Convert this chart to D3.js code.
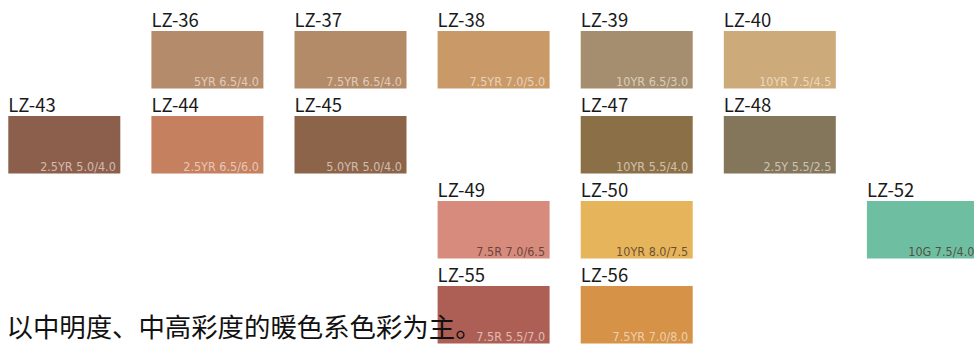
<!DOCTYPE html>
<html>
<head>
<meta charset="utf-8">
<script src="https://cdn.jsdelivr.net/npm/d3@7"></script>
<style>
  body { margin: 0; background: #fff; }
  svg { display: block; }
</style>
</head>
<body>
<div id="chart-area"></div>
<script>
// Swatch data
const codes = ["LZ-36", "LZ-37", "LZ-38", "LZ-39", "LZ-40",
  "LZ-43", "LZ-44", "LZ-45", "LZ-47", "LZ-48",
  "LZ-49", "LZ-50", "LZ-52", "LZ-55", "LZ-56"];
const munsell = ["5YR 6.5/4.0", "7.5YR 6.5/4.0", "7.5YR 7.0/5.0", "10YR 6.5/3.0", "10YR 7.5/4.5",
  "2.5YR 5.0/4.0", "2.5YR 6.5/6.0", "5.0YR 5.0/4.0", "10YR 5.5/4.0", "2.5Y 5.5/2.5",
  "7.5R 7.0/6.5", "10YR 8.0/7.5", "10G 7.5/4.0", "7.5R 5.5/7.0", "7.5YR 7.0/8.0"];
const swatchColors = ["#b48c6c", "#b38b69", "#c99a68", "#a48e6f", "#cdaa79",
  "#8c5f4c", "#c5805f", "#8c6449", "#8b7047", "#83765b",
  "#d68b7d", "#e6b45b", "#6ebea1", "#ae5f55", "#d69247"];
const cols = [1, 2, 3, 4, 5, 0, 1, 2, 4, 5, 3, 4, 6, 3, 4];
const rows = [0, 0, 0, 0, 0, 1, 1, 1, 1, 1, 2, 2, 2, 3, 3];
const darkText = ["LZ-49", "LZ-50", "LZ-52"];
const caption = "以中明度、中高彩度的暖色系色彩为主。";

const width = 974, height = 345;
const swW = 112, swH = 57.5;

const svg = d3.select("#chart-area").append("svg")
  .attr("width", width)
  .attr("height", height);

const x = d3.scaleLinear().domain([0, 6]).range([8.3, 866.9]);
const y = d3.scaleLinear().domain([0, 3]).range([31, 286]);

const data = codes.map((c, i) => ({
  code: c, munsell: munsell[i], color: swatchColors[i], col: cols[i], row: rows[i]
}));

const g = svg.selectAll(".swatch")
  .data(data)
  .enter().append("g")
  .attr("class", "swatch")
  .attr("transform", d => "translate(" + x(d.col) + "," + y(d.row) + ")");

g.append("rect")
  .attr("width", swW)
  .attr("height", swH)
  .attr("fill", d => d.color);

g.append("text")
  .attr("x", 0)
  .attr("y", -3.6)
  .attr("font-family", "'Noto Sans CJK SC', 'Noto Sans', sans-serif")
  .attr("font-size", 18.5)
  .attr("fill", "#1a1a1a")
  .text(d => d.code);

g.append("text")
  .attr("x", swW - 4.5)
  .attr("y", swH - 3)
  .attr("text-anchor", "end")
  .attr("font-family", "'Liberation Sans Narrow', 'DejaVu Sans Condensed', sans-serif")
  .attr("font-size", 12.5)
  .attr("fill", d => darkText.includes(d.code) ? "rgba(70,45,35,0.75)" : "rgba(255,245,235,0.62)")
  .text(d => d.munsell);

// Caption on top
svg.append("text")
  .attr("x", 6.5)
  .attr("y", 337)
  .attr("font-family", "'Noto Sans CJK SC', sans-serif")
  .attr("font-size", 26.4)
  .attr("fill", "#111")
  .text(caption);
</script>
</body>
</html>
